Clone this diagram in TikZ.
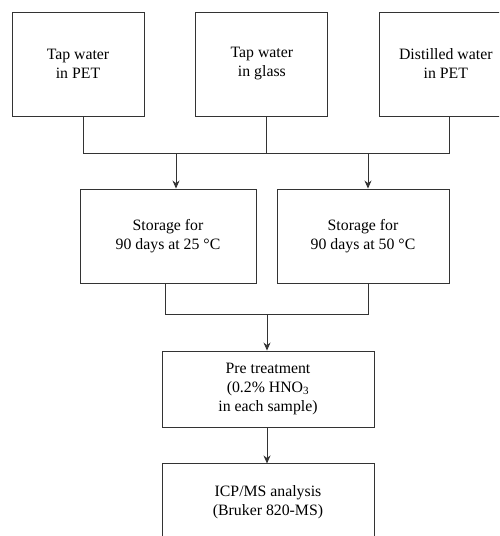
\documentclass[tikz,border=0pt]{standalone}
\usepackage{fontspec}
\setmainfont{Liberation Serif}
\usetikzlibrary{arrows.meta, positioning, calc}
\tikzset{
  box/.style={draw=black!80, line width=0.9pt, fill=white, align=center,
    minimum width=132pt, minimum height=104pt, inner sep=2pt,
    font=\fontsize{15.8}{19}\selectfont},
  link/.style={draw=black!80, line width=0.9pt},
  arr/.style={link, -{Stealth[length=8pt, width=7pt]}},
}
\begin{document}
\begin{tikzpicture}[x=1pt, y=-1pt, node distance=51pt]
    \useasboundingbox (0,0) rectangle (499,536);
    \clip (0,0) rectangle (499,536);
    % samples
    \node[box] (pet) at (78,64) {Tap water\\in PET};
    \node[box, right=of pet] (glass) {Tap water\\in glass};
    \node[box, right=of glass] (dist) {Distilled water\\in PET};
    % storage
    \node[box, minimum width=176pt, minimum height=94pt] (s25) at (168,236) {Storage for\\90 days at 25 °C};
    \node[box, minimum width=172pt, minimum height=94pt] (s50) at (363,236) {Storage for\\90 days at 50 °C};
    % treatment and analysis
    \node[box, minimum width=212pt, minimum height=76pt] (pre) at (268,389) {Pre treatment\\(0.2\% HNO\textsubscript{3}\\in each sample)};
    \node[box, minimum width=212pt, minimum height=76pt, below=36pt of pre] (icp) {ICP/MS analysis\\(Bruker 820-MS)};
    \coordinate (m1) at (176,153);
    \coordinate (m2) at (368,153);
    \coordinate (m3) at (267,314);
    \draw[link] ([xshift=5pt]pet.south) |- ([xshift=4pt]dist.south |- m1) -- ([xshift=4pt]dist.south);
    \draw[link] ([xshift=5pt]glass.south) -- ([xshift=5pt]glass.south |- m1);
    \draw[arr] (m1) -- (m1 |- s25.north);
    \draw[arr] (m2) -- (m2 |- s50.north);
    \draw[link] ([xshift=-3pt]s25.south) |- ([xshift=5pt]s50.south |- m3) -- ([xshift=5pt]s50.south);
    \draw[arr] (m3) -- (m3 |- pre.north);
    \draw[arr] (m3 |- pre.south) -- (m3 |- icp.north);
  \end{tikzpicture}
\end{document}
